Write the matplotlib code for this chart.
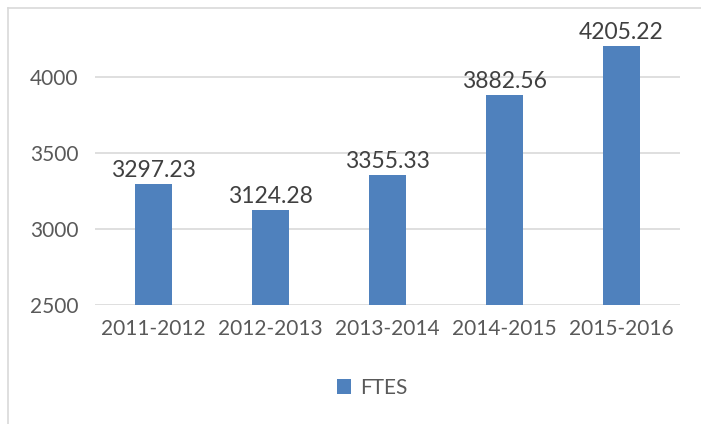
import matplotlib.pyplot as plt
from matplotlib.lines import Line2D

# Data
years = ['2011-2012', '2012-2013', '2013-2014', '2014-2015', '2015-2016']
ftes = [3297.23, 3124.28, 3355.33, 3882.56, 4205.22]
yticks = [2500, 3000, 3500, 4000]

plt.rcParams['font.family'] = ['Lato', 'DejaVu Sans']

W, H = 701, 424
fig = plt.figure(figsize=(W / 100, H / 100), dpi=100)
ax = fig.add_axes([95 / W, 1 - 305 / H, 585 / W, (305 - 8) / H])

bars = ax.bar(range(len(years)), ftes, width=0.32, color='#4F81BD', zorder=3,
              label='FTES')
for b, v in zip(bars, ftes):
    ax.text(b.get_x() + b.get_width() / 2, v + 20, f'{v:.2f}', ha='center',
            va='bottom', fontsize=16.5, color='#404040')

ax.set_xlim(-0.5, len(years) - 0.5)
ax.set_ylim(2500, 4454)
ax.set_yticks(yticks)
ax.set_xticks(range(len(years)))
ax.set_xticklabels(years)
ax.tick_params(axis='both', length=0, labelsize=15, colors='#595959')
ax.tick_params(axis='y', pad=12)
ax.tick_params(axis='x', pad=10)
ax.grid(axis='y', color='#d9d9d9', linewidth=1.2, zorder=0)
for s in ax.spines.values():
    s.set_visible(False)

leg = fig.legend(loc='center', bbox_to_anchor=(372 / W, 1 - 388 / H), frameon=False,
                 fontsize=15, handlelength=0.7, handleheight=0.7,
                 handletextpad=0.4)
for t in leg.get_texts():
    t.set_color('#595959')

# chart area border (left and top visible)
fig.add_artist(Line2D([7.5 / W, 7.5 / W], [0, 1 - 8 / H], color='#d9d9d9', lw=1.2))
fig.add_artist(Line2D([7.5 / W, 1], [1 - 8 / H, 1 - 8 / H], color='#d9d9d9', lw=1.2))

fig.savefig('out.png', dpi=100)
